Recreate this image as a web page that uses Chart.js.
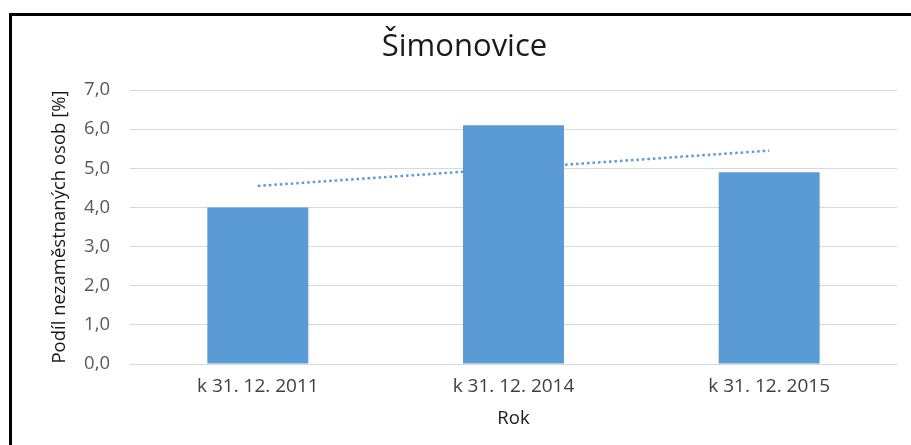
<!DOCTYPE html>
<html>
<head>
<meta charset="utf-8">
<script src="https://cdn.jsdelivr.net/npm/chart.js@4"></script>
<style>
  html, body { margin: 0; padding: 0; background: #fff; }
  #frame {
    position: absolute; left: 9px; top: 13px;
    width: 899px; height: 429px;
    border-top: 3px solid #000; border-left: 3px solid #000;
  }
  #chart { display: block; }
</style>
</head>
<body>
<div id="frame"><canvas id="chart" width="899" height="429"></canvas></div>
<script>
const categories = ['k 31. 12. 2011', 'k 31. 12. 2014', 'k 31. 12. 2015'];
const shareValues = [4.0, 6.1, 4.9];
// dotted trend line
const trendValues = [4.55, 5.0, 5.45];

const barColor = '#5b9bd5';
const fontFamily = "'Open Sans', 'Liberation Sans', sans-serif";

let config = {
  type: 'bar',
  data: {
    labels: categories,
    datasets: [
      {
        type: 'bar',
        label: 'Podíl nezaměstnaných osob',
        data: shareValues,
        backgroundColor: barColor,
        categoryPercentage: 1,
        barPercentage: 0.395,
        order: 1
      },
      {
        type: 'line',
        label: 'Trend',
        data: trendValues,
        borderColor: barColor,
        borderWidth: 2.5,
        borderDash: [2.5, 3],
        pointRadius: 0,
        fill: false,
        order: 2
      }
    ]
  },
  options: {
    responsive: false,
    animation: false,
    layout: { padding: { left: 20, right: 14, top: 0, bottom: 0 } },
    plugins: {
      legend: { display: false },
      tooltip: { enabled: false },
      title: {
        display: true,
        text: 'Šimonovice',
        color: '#1a1a1a',
        font: { family: fontFamily, size: 31, weight: 'normal' },
        padding: { top: 12.4, bottom: 24.4 }
      }
    },
    scales: {
      x: {
        grid: { display: false, drawTicks: false },
        border: { display: true, color: '#d9d9d9', width: 1 },
        ticks: {
          color: '#404040',
          padding: 11,
          font: { family: fontFamily, size: 19 }
        },
        title: {
          display: true,
          text: 'Rok',
          color: '#1a1a1a',
          font: { family: fontFamily, size: 18.5 },
          padding: { top: 0, bottom: 15 }
        },
        afterFit: function (scale) { scale.height = 81; }
      },
      y: {
        min: 0,
        max: 7,
        grid: { color: '#d9d9d9', lineWidth: 1, drawTicks: false },
        border: { display: false },
        ticks: {
          stepSize: 1,
          color: '#595959',
          padding: 20,
          font: { family: fontFamily, size: 18.5 },
          callback: function (v) { return v.toFixed(1).replace('.', ','); }
        },
        title: {
          display: true,
          text: 'Podíl nezaměstnaných osob [%]',
          color: '#1a1a1a',
          font: { family: fontFamily, size: 18.5 },
          padding: { top: 17, bottom: 0 }
        },
        afterFit: function (scale) { scale.width = 98; }
      }
    }
  }
};

let ctx = document.getElementById('chart').getContext('2d');
window.myBar = new Chart(ctx, config);
</script>
</body>
</html>
